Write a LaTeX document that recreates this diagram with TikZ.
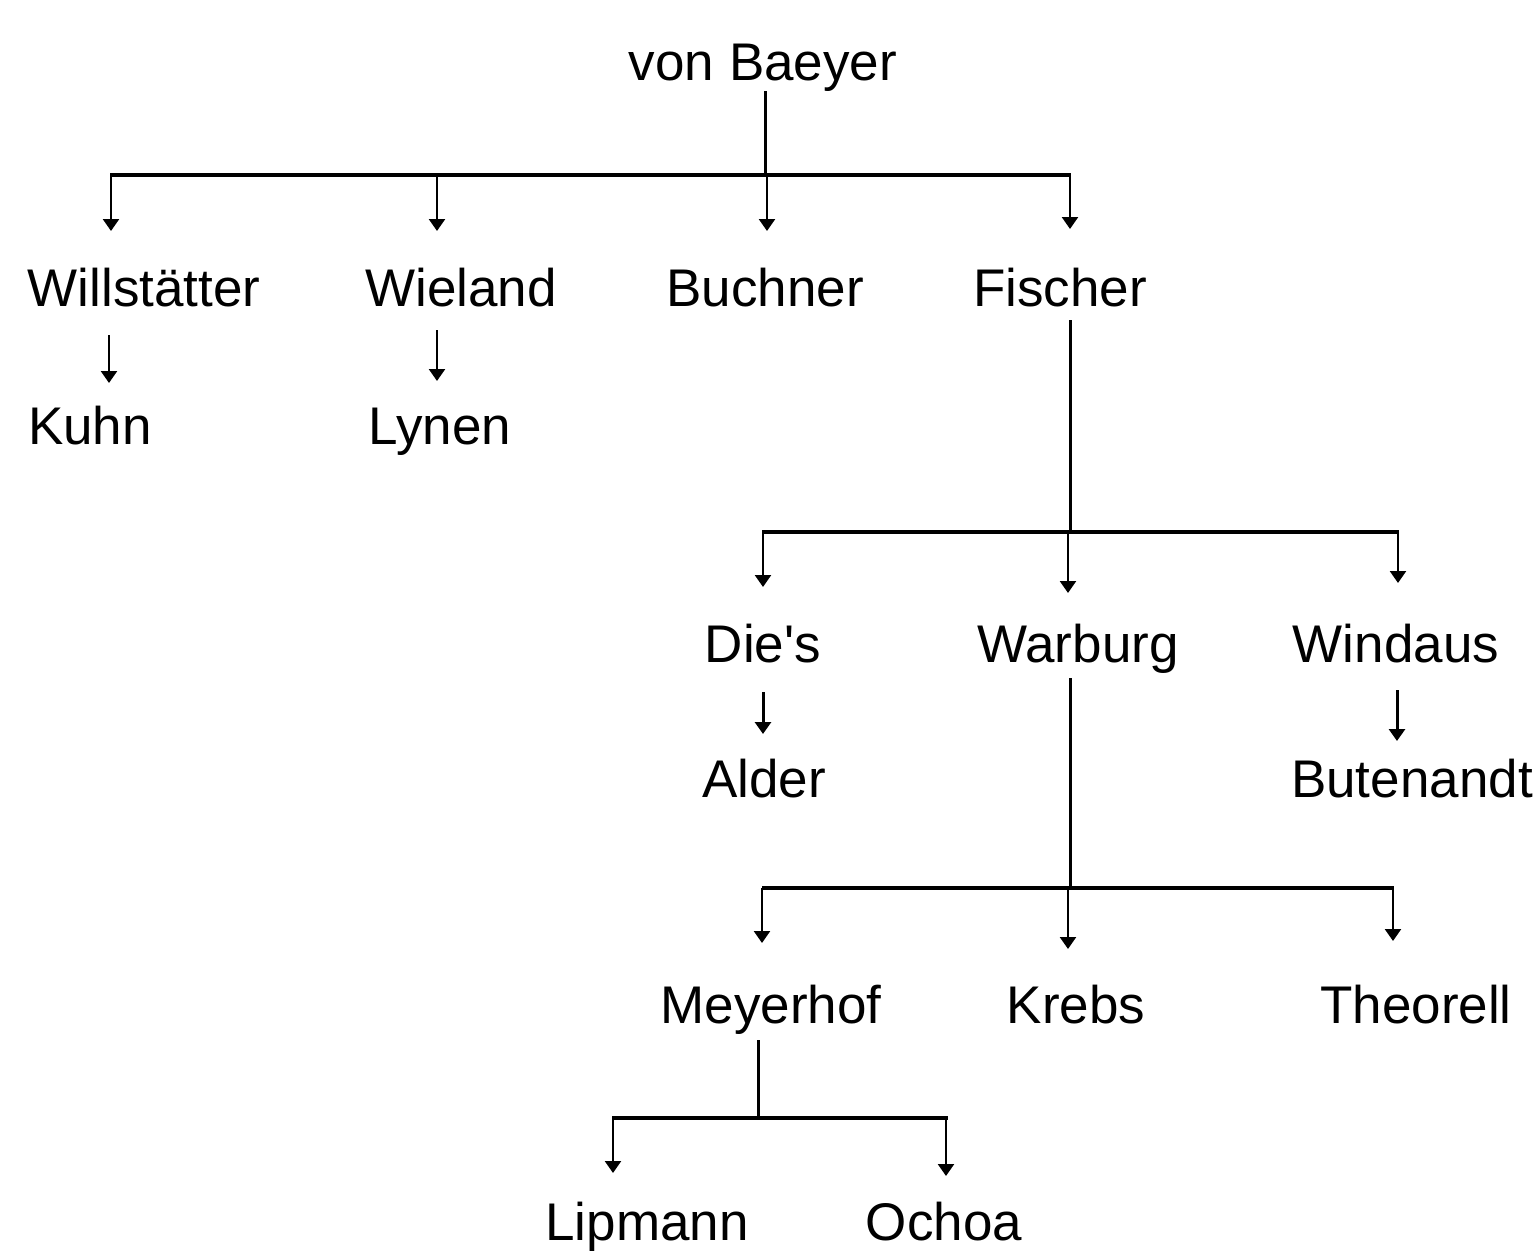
\documentclass[tikz,border=0pt]{standalone}
\usepackage{fontspec}
\setmainfont{Liberation Sans}
\newfontfamily\nomapfont{Liberation Sans}
\usetikzlibrary{arrows.meta}
\begin{document}
\begin{tikzpicture}[x=0.5pt,y=-0.5pt,
 lbl/.style={anchor=base, inner sep=0pt, font=\fontsize{26.5}{30}\selectfont},
 bar/.style={line width=2pt},
 stem/.style={line width=1.5pt},
 drop/.style={line width=1.2pt, -{Triangle[width=8pt,length=6pt]}},
]
\useasboundingbox[fill=white] (0,0) rectangle (1539,1253);
% names
\node[lbl] (baeyer) at (763,80) {von Baeyer};
\node[lbl] (will) at (144,306) {Willstätter};
\node[lbl] (wiel) at (461,306) {Wieland};
\node[lbl] (buch) at (765,306) {Buchner};
\node[lbl] (fisch) at (1060,306) {Fischer};
\node[lbl] (kuhn) at (90,444) {Kuhn};
\node[lbl] (lynen) at (440,444) {Lynen};
\node[lbl] (diels) at (763,662) {{\nomapfont Die's}};
\node[lbl] (warb) at (1078,662) {Warburg};
\node[lbl] (wind) at (1396,662) {Windaus};
\node[lbl] (alder) at (764,797) {Alder};
\node[lbl] (buten) at (1412,797) {Butenandt};
\node[lbl] (meyer) at (771,1023) {Meyerhof};
\node[lbl] (krebs) at (1076,1023) {Krebs};
\node[lbl] (theo) at (1416,1023) {Theorell};
\node[lbl] (lip) at (647,1240) {Lipmann};
\node[lbl] (ochoa) at (944,1240) {Ochoa};
% level 1
\coordinate (b1) at (765,175);
\coordinate (b1l) at (110,175);
\coordinate (b1r) at (1071,175);
\coordinate (tw) at (111,231);
\coordinate (twl) at (437,231);
\coordinate (tb) at (767,231);
\coordinate (tf) at (1070,229);
\draw[stem] (baeyer.south -| b1) -- (b1);
\draw[bar] (b1l) -- (b1r);
\draw[drop] (tw |- b1) -- (tw);
\draw[drop] (twl |- b1) -- (twl);
\draw[drop] (tb |- b1) -- (tb);
\draw[drop] (tf |- b1) -- (tf);
% Kuhn, Lynen
\coordinate (k1) at (109,335);
\coordinate (k2) at (109,383);
\coordinate (l1) at (437,330);
\coordinate (l2) at (437,381);
\draw[drop] (k1) -- (k2);
\draw[drop] (l1) -- (l2);
% level 2
\coordinate (f1) at (1070,320);
\coordinate (b2) at (1070,532);
\coordinate (b2l) at (762,532);
\coordinate (b2r) at (1399,532);
\coordinate (td) at (763,587);
\coordinate (twa) at (1068,593);
\coordinate (twi) at (1398,583);
\draw[stem] (f1) -- (b2);
\draw[bar] (b2l) -- (b2r);
\draw[drop] (td |- b2) -- (td);
\draw[drop] (twa |- b2) -- (twa);
\draw[drop] (twi |- b2) -- (twi);
% Alder, Butenandt
\coordinate (a1) at (763,692);
\coordinate (a2) at (763,734);
\coordinate (u1) at (1397,690);
\coordinate (u2) at (1397,741);
\draw[drop, line width=1.5pt] (a1) -- (a2);
\draw[drop, line width=1.5pt] (u1) -- (u2);
% level 3
\coordinate (w1) at (1070,678);
\coordinate (b3) at (1070,888);
\coordinate (b3l) at (762,888);
\coordinate (b3r) at (1394,888);
\coordinate (tm) at (762,943);
\coordinate (tk) at (1068,949);
\coordinate (tt) at (1393,941);
\draw[stem] (w1) -- (b3);
\draw[bar] (b3l) -- (b3r);
\draw[drop] (tm |- b3) -- (tm);
\draw[drop] (tk |- b3) -- (tk);
\draw[drop] (tt |- b3) -- (tt);
% level 4
\coordinate (m1) at (758,1040);
\coordinate (b4) at (758,1118);
\coordinate (b4l) at (612,1118);
\coordinate (b4r) at (948,1118);
\coordinate (tl) at (613,1173);
\coordinate (to) at (946,1176);
\draw[stem] (m1) -- (b4);
\draw[bar] (b4l) -- (b4r);
\draw[drop] (tl |- b4) -- (tl);
\draw[drop] (to |- b4) -- (to);
\end{tikzpicture}
\end{document}
